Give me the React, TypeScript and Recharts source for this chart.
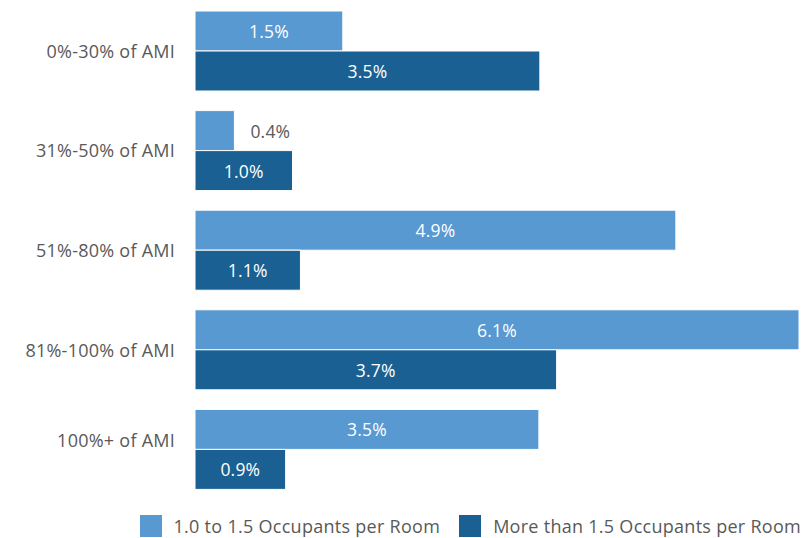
import React from 'react';
import { BarChart, Bar, XAxis, YAxis, Legend, LabelList } from 'recharts';

const incomeGroups = ['0%-30% of AMI', '31%-50% of AMI', '51%-80% of AMI', '81%-100% of AMI', '100%+ of AMI'];
// share of households (labels show one decimal)
const oneToOneHalf = [1.5, 0.4, 4.88, 6.13, 3.49];
const moreThanOneHalf = [3.5, 0.99, 1.07, 3.67, 0.92];

const seriesNames = ['1.0 to 1.5 Occupants per Room', 'More than 1.5 Occupants per Room'];
const LIGHT = '#5899d2';
const DARK = '#1a6093';
const TEXT = '#595959';
const FONT = '"Open Sans", sans-serif';

const data = incomeGroups.map((group, i) => ({
  group,
  low: oneToOneHalf[i],
  high: moreThanOneHalf[i],
}));

const renderBarLabel = (props: any) => {
  const { x, y, width, height, value } = props;
  const text = `${Number(value).toFixed(1)}%`;
  const inside = width > 50;
  return (
    <text
      x={inside ? x + width / 2 : x + width + 16}
      y={y + height / 2}
      textAnchor={inside ? 'middle' : 'start'}
      dominantBaseline="central"
      fill={inside ? '#ffffff' : TEXT}
      fontSize={17.5}
      fontFamily={FONT}
      letterSpacing={0.2}
    >
      {text}
    </text>
  );
};

const renderTick = (props: any) => {
  const { x, y, payload, index } = props;
  // the last label sits a little higher in the original
  const shift = index === incomeGroups.length - 1 ? -9 : 0;
  return (
    <text
      x={x}
      y={y + shift}
      textAnchor="end"
      dominantBaseline="central"
      fill={TEXT}
      fontSize={18}
      fontFamily={FONT}
      letterSpacing={0.25}
    >
      {payload.value}
    </text>
  );
};

const renderLegend = () => (
  <div
    style={{
      height: 39,
      display: 'flex',
      justifyContent: 'flex-end',
      alignItems: 'flex-end',
      fontFamily: FONT,
      fontSize: 18,
      letterSpacing: 0.28,
      color: TEXT,
    }}
  >
    {[LIGHT, DARK].map((c, i) => (
      <div key={i} style={{ display: 'flex', alignItems: 'center', marginLeft: i ? 19 : 0, height: 22, marginBottom: 1 }}>
        <span style={{ width: 22, height: 22, background: c, display: 'inline-block', marginRight: 12 }} />
        <span style={{ whiteSpace: 'nowrap' }}>{seriesNames[i]}</span>
      </div>
    ))}
  </div>
);

export default function App() {
  return (
    <div style={{ width: 802, height: 538, background: '#fff' }}>
      <style>{'body{margin:0}'}</style>
      <BarChart
        width={802}
        height={538}
        data={data}
        layout="vertical"
        margin={{ top: 1, right: 3, bottom: 0, left: 0 }}
        barCategoryGap={10}
        barGap={0}
      >
        <XAxis type="number" domain={[0, 6.13]} hide />
        <YAxis
          type="category"
          dataKey="group"
          width={195}
          axisLine={false}
          tickLine={false}
          tickSize={0}
          tickMargin={20}
          tick={renderTick}
        />
        <Legend verticalAlign="bottom" align="right" content={renderLegend} wrapperStyle={{ left: 0, width: 801 }} />
        <Bar dataKey="low" name={seriesNames[0]} fill={LIGHT} stroke="#ffffff" strokeWidth={1} isAnimationActive={false}>
          <LabelList dataKey="low" content={renderBarLabel} />
        </Bar>
        <Bar dataKey="high" name={seriesNames[1]} fill={DARK} stroke="#ffffff" strokeWidth={1} isAnimationActive={false}>
          <LabelList dataKey="high" content={renderBarLabel} />
        </Bar>
      </BarChart>
    </div>
  );
}
